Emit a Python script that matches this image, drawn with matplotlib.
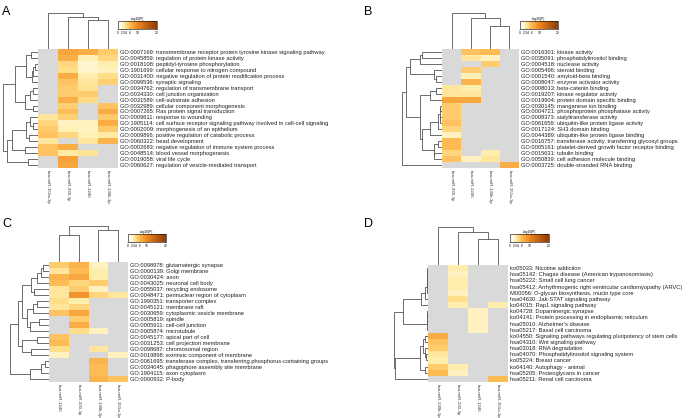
import numpy as np
import matplotlib.pyplot as plt
from matplotlib.colors import LinearSegmentedColormap

plt.rcParams['font.family'] = ['Liberation Sans', 'DejaVu Sans']

W, H = 691, 418
nan = np.nan

# ---------------- panel A ----------------
a_cols = ['hsa-miR-151a-3p', 'hsa-miR-330-3p', 'hsa-miR-1246', 'hsa-miR-130b-3p']
a_terms = [
    'GO:0007169: transmembrane receptor protein tyrosine kinase signaling pathway',
    'GO:0045859: regulation of protein kinase activity',
    'GO:0018108: peptidyl-tyrosine phosphorylation',
    'GO:1901699: cellular response to nitrogen compound',
    'GO:0031400: negative regulation of protein modification process',
    'GO:0099536: synaptic signaling',
    'GO:0034762: regulation of transmembrane transport',
    'GO:0034330: cell junction organization',
    'GO:0031589: cell-substrate adhesion',
    'GO:0032989: cellular component morphogenesis',
    'GO:0007265: Ras protein signal transduction',
    'GO:0009611: response to wounding',
    'GO:1905114: cell surface receptor signaling pathway involved in cell-cell signaling',
    'GO:0002009: morphogenesis of an epithelium',
    'GO:0009896: positive regulation of catabolic process',
    'GO:0060322: head development',
    'GO:0002683: negative regulation of immune system process',
    'GO:0048514: blood vessel morphogenesis',
    'GO:0019058: viral life cycle',
    'GO:0060627: regulation of vesicle-mediated transport',
]
a_vals = [
    [nan, 7.5, 7.0, 5.0],
    [nan, 7.0, 2.8, 4.5],
    [nan, 4.5, 2.2, 3.0],
    [nan, 4.0, 2.2, 2.5],
    [nan, 7.0, 3.0, 4.0],
    [nan, 5.5, 3.5, 4.8],
    [nan, 5.0, 3.8, nan],
    [nan, 5.0, 5.0, nan],
    [nan, 6.8, 4.2, nan],
    [nan, 4.8, nan, 5.5],
    [nan, 5.8, nan, 7.0],
    [3.5, 4.8, nan, 5.2],
    [4.5, 2.5, 2.5, 7.0],
    [5.2, 2.8, 2.5, 5.2],
    [5.5, 4.5, 2.8, 3.2],
    [3.5, nan, 3.5, 6.5],
    [5.5, 7.0, nan, nan],
    [5.5, 3.2, 3.8, nan],
    [nan, 8.0, nan, nan],
    [nan, 7.5, nan, nan],
]
a_row_tree = (1.0,
              (0.65,
               (0.33, (0.19, 0, 1), (0.17, (0.14, (0.09, 2, 3), 4), 5)),
               (0.37, (0.23, (0.14, 6, 7), 8), (0.14, 9, 10))),
              (0.89,
               (0.75,
                (0.33, (0.22, 11, (0.14, 12, 13)), (0.25, 14, 15)),
                (0.37, 16, 17)),
               (0.28, 18, 19)))
a_col_tree = (1.0, 0, (0.9, 1, (0.8, 2, 3)))

# ---------------- panel B ----------------
b_cols = ['hsa-miR-330-3p', 'hsa-miR-1246', 'hsa-miR-130b-3p', 'hsa-miR-151a-3p']
b_terms = [
    'GO:0016301: kinase activity',
    'GO:0035091: phosphatidylinositol binding',
    'GO:0004518: nuclease activity',
    'GO:0005496: steroid binding',
    'GO:0001540: amyloid-beta binding',
    'GO:0008047: enzyme activator activity',
    'GO:0008013: beta-catenin binding',
    'GO:0019207: kinase regulator activity',
    'GO:0019904: protein domain specific binding',
    'GO:0030145: manganese ion binding',
    'GO:0004721: phosphoprotein phosphatase activity',
    'GO:0008373: sialyltransferase activity',
    'GO:0061659: ubiquitin-like protein ligase activity',
    'GO:0017124: SH3 domain binding',
    'GO:0044389: ubiquitin-like protein ligase binding',
    'GO:0016757: transferase activity, transferring glycosyl groups',
    'GO:0005161: platelet-derived growth factor receptor binding',
    'GO:0015631: tubulin binding',
    'GO:0050839: cell adhesion molecule binding',
    'GO:0003725: double-stranded RNA binding',
]
b_vals = [
    [nan, 5.5, 6.0, nan],
    [nan, 3.5, 2.5, nan],
    [nan, nan, 5.0, nan],
    [nan, 5.0, nan, nan],
    [nan, 2.8, nan, nan],
    [nan, 6.5, nan, nan],
    [3.5, 3.0, nan, nan],
    [3.5, 3.5, nan, nan],
    [7.5, 7.5, nan, nan],
    [5.0, nan, nan, nan],
    [5.0, nan, nan, nan],
    [5.0, nan, nan, nan],
    [5.5, nan, nan, nan],
    [4.5, nan, nan, nan],
    [2.5, nan, nan, nan],
    [6.0, nan, nan, nan],
    [6.0, nan, nan, nan],
    [4.5, nan, 3.0, nan],
    [5.5, 2.5, 3.5, nan],
    [nan, nan, nan, 7.0],
]
b_row_tree = (1.0,
              (0.9,
               (0.8,
                (0.55, (0.5, 0, 1), 2),
                (0.2, 3, (0.15, 4, 5))),
               (0.55,
                (0.3, (0.15, 6, 7), 8),
                (0.5,
                 (0.3,
                  (0.1, (0.06, (0.04, 9, 10), (0.04, 11, 12)), 13),
                  14),
                 (0.2, (0.1, 15, 16), (0.2, 17, 18))))),
              19)
b_col_tree = (1.0, 0, (0.86, 1, (0.63, 2, 3)))

# ---------------- panel C ----------------
c_cols = ['hsa-miR-1246', 'hsa-miR-330-3p', 'hsa-miR-130b-3p', 'hsa-miR-151a-3p']
c_terms = [
    'GO:0098978: glutamatergic synapse',
    'GO:0000139: Golgi membrane',
    'GO:0030424: axon',
    'GO:0043025: neuronal cell body',
    'GO:0055037: recycling endosome',
    'GO:0048471: perinuclear region of cytoplasm',
    'GO:1990351: transporter complex',
    'GO:0045121: membrane raft',
    'GO:0030659: cytoplasmic vesicle membrane',
    'GO:0005819: spindle',
    'GO:0005911: cell-cell junction',
    'GO:0005874: microtubule',
    'GO:0045177: apical part of cell',
    'GO:0031253: cell projection membrane',
    'GO:0098687: chromosomal region',
    'GO:0019898: extrinsic component of membrane',
    'GO:0061695: transferase complex, transferring phosphorus-containing groups',
    'GO:0034045: phagophore assembly site membrane',
    'GO:1904115: axon cytoplasm',
    'GO:0000932: P-body',
]
c_vals = [
    [5.0, 6.5, 2.5, nan],
    [3.5, 6.0, 3.0, nan],
    [6.5, 7.5, 3.0, nan],
    [6.0, 4.5, 5.0, nan],
    [3.5, 5.0, 2.5, nan],
    [3.5, 9.0, 4.5, 3.5],
    [4.0, 3.0, nan, nan],
    [3.5, 4.5, nan, nan],
    [5.5, 7.5, nan, nan],
    [nan, 5.0, nan, nan],
    [nan, 7.0, nan, nan],
    [nan, 4.0, 2.5, nan],
    [5.5, nan, nan, nan],
    [6.0, nan, nan, nan],
    [4.0, nan, 3.5, nan],
    [2.5, nan, nan, 2.5],
    [nan, nan, 6.5, nan],
    [nan, nan, 6.0, nan],
    [nan, nan, 6.0, nan],
    [nan, nan, 6.5, 5.5],
]
c_row_tree = (1.0,
              (0.8,
               (0.68,
                (0.45, (0.3, (0.2, (0.15, 0, 1), 2), 3), (0.38, 4, 5)),
                (0.57, (0.4, (0.3, 6, 7), 8), (0.5, (0.25, 9, 10), 11))),
               (0.7, (0.3, 12, 13), (0.45, 14, 15))),
              (0.5, (0.2, (0.1, 16, 17), 18), 19))
c_col_tree = (1.0, (0.74, 0, 1), (0.88, 2, 3))

# ---------------- panel D ----------------
d_cols = ['hsa-miR-130b-3p', 'hsa-miR-330-3p', 'hsa-miR-1246', 'hsa-miR-151a-3p']
d_terms = [
    'ko05033: Nicotine addiction',
    'hsa05142: Chagas disease (American trypanosomiasis)',
    'hsa05222: Small cell lung cancer',
    'hsa05412: Arrhythmogenic right ventricular cardiomyopathy (ARVC)',
    'M00056: O-glycan biosynthesis, mucin type core',
    'hsa04630: Jak-STAT signaling pathway',
    'ko04015: Rap1 signaling pathway',
    'ko04728: Dopaminergic synapse',
    'ko04141: Protein processing in endoplasmic reticulum',
    'hsa05010: Alzheimer\'s disease',
    'hsa05217: Basal cell carcinoma',
    'ko04550: Signaling pathways regulating pluripotency of stem cells',
    'hsa04310: Wnt signaling pathway',
    'hsa03018: RNA degradation',
    'hsa04070: Phosphatidylinositol signaling system',
    'ko05224: Breast cancer',
    'ko04140: Autophagy - animal',
    'hsa05205: Proteoglycans in cancer',
    'hsa05211: Renal cell carcinoma',
]
d_vals = [
    [nan, 3.0, nan, nan],
    [nan, 2.5, nan, nan],
    [nan, 3.0, nan, nan],
    [nan, 3.0, nan, nan],
    [nan, 2.5, nan, nan],
    [nan, 4.0, nan, nan],
    [nan, 3.0, nan, 3.0],
    [nan, nan, 2.5, nan],
    [nan, nan, 2.5, nan],
    [nan, nan, 2.5, nan],
    [nan, nan, 2.5, nan],
    [7.0, nan, nan, nan],
    [5.5, nan, nan, nan],
    [5.0, nan, nan, nan],
    [3.5, nan, nan, nan],
    [3.0, nan, nan, nan],
    [5.0, 3.0, nan, nan],
    [6.0, 2.5, nan, nan],
    [nan, nan, nan, 6.0],
]
d_row_tree = (1.0,
              (0.75,
               (0.2,
                (0.1, (0.02, (0.02, (0.02, (0.02, 0, 1), 2), 3), 4), 5),
                6),
               (0.02, (0.02, (0.02, 7, 8), 9), 10)),
              (0.98,
               (0.25,
                (0.15, (0.1, 11, 12), (0.1, 13, (0.05, 14, 15))),
                (0.08, 16, 17)),
               18))
d_col_tree = (1.0, 0, (0.87, 1, (0.69, 2, 3)))

# ---------------- layout (pixels) ----------------
panels = [
    # label, label xy, heatmap box (x0, x1, y0, y1), dendro root x, col dendro top y, cbar box
    dict(tag='A', lab=(2, 12), heat=(38, 118, 49, 168), rx=3, cy=13,
         cbar=(118, 157, 21, 29), cols=a_cols, terms=a_terms, vals=a_vals,
         rtree=a_row_tree, ctree=a_col_tree),
    dict(tag='B', lab=(364, 12), heat=(442, 519, 49, 168), rx=402, cy=13,
         cbar=(520, 558, 21, 29), cols=b_cols, terms=b_terms, vals=b_vals,
         rtree=b_row_tree, ctree=b_col_tree),
    dict(tag='C', lab=(2, 224), heat=(49, 128, 262, 382), rx=10, cy=226,
         cbar=(128, 166, 234, 242), cols=c_cols, terms=c_terms, vals=c_vals,
         rtree=c_row_tree, ctree=c_col_tree),
    dict(tag='D', lab=(364, 224), heat=(428, 508, 265, 382), rx=394, cy=227,
         cbar=(510, 549, 234, 242), cols=d_cols, terms=d_terms, vals=d_vals,
         rtree=d_row_tree, ctree=d_col_tree),
]

cmap = LinearSegmentedColormap.from_list('metascape', [
    (0.0, '#FFFFFF'), (0.1, '#FFF8D6'), (0.15, '#FFEDAA'), (0.2, '#FFDE8A'),
    (0.3, '#FDBA52'), (0.5, '#F0861E'), (1.0, '#8C3A06')])
cmap.set_bad('#D9D9D9')

fig = plt.figure(figsize=(W / 100, H / 100), dpi=100)


def box(x0, x1, y0, y1):
    return [x0 / W, 1 - y1 / H, (x1 - x0) / W, (y1 - y0) / H]


def draw_tree(ax, node, orient):
    if isinstance(node, int):
        return node + 0.5, 0.0
    h, l, r = node
    pl, hl = draw_tree(ax, l, orient)
    pr, hr = draw_tree(ax, r, orient)
    if orient == 'row':
        ax.plot([hl, h, h, hr], [pl, pl, pr, pr], color='#555555', lw=0.6)
    else:
        ax.plot([pl, pl, pr, pr], [hl, h, h, hr], color='#555555', lw=0.6)
    return (pl + pr) / 2, h


for p in panels:
    x0, x1, y0, y1 = p['heat']
    vals = np.ma.masked_invalid(np.array(p['vals']))
    n, m = vals.shape

    ax = fig.add_axes(box(x0, x1, y0, y1))
    mesh = ax.pcolormesh(vals, cmap=cmap, vmin=0, vmax=20)
    ax.set_xlim(0, m)
    ax.set_ylim(n, 0)
    ax.yaxis.tick_right()
    ax.set_yticks(np.arange(n) + 0.5)
    ax.set_yticklabels(p['terms'], fontsize=4.15, color='#222222')
    ax.set_xticks(np.arange(m) + 0.5)
    ax.set_xticklabels(p['cols'], rotation=270, fontsize=3.2, color='#333333')
    ax.tick_params(length=0, pad=1.5)
    for s in ax.spines.values():
        s.set_visible(False)

    # row dendrogram
    rax = fig.add_axes(box(p['rx'], x0, y0, y1))
    draw_tree(rax, p['rtree'], 'row')
    rax.set_xlim(1.0, 0)
    rax.set_ylim(n, 0)
    rax.axis('off')

    # column dendrogram
    cax = fig.add_axes(box(x0, x1, p['cy'], y0))
    draw_tree(cax, p['ctree'], 'col')
    cax.set_xlim(0, m)
    cax.set_ylim(0, 1.0)
    cax.axis('off')

    # colour key
    bx0, bx1, by0, by1 = p['cbar']
    kax = fig.add_axes(box(bx0, bx1, by0, by1))
    cb = fig.colorbar(mesh, cax=kax, orientation='horizontal', ticks=[0, 2, 3, 4, 6, 10, 20])
    cb.ax.tick_params(labelsize=2.3, length=0.8, width=0.3, pad=0.5)
    cb.outline.set_linewidth(0.4)
    kax.set_title('-log10(P)', fontsize=2.3, pad=1)

    fig.text(p['lab'][0] / W, 1 - p['lab'][1] / H, p['tag'], fontsize=9,
             ha='left', va='center')

fig.savefig('out.png', dpi=100)
